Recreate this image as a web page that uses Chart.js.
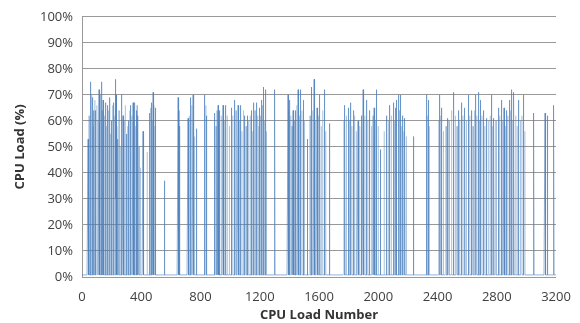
<!DOCTYPE html>
<html>
<head>
<meta charset="utf-8">
<script src="https://cdn.jsdelivr.net/npm/chart.js@4/dist/chart.umd.min.js"></script>
<style>
    html, body { margin: 0; padding: 0; background: #fff; }
    #wrap { width: 580px; height: 323px; }
</style>
</head>
<body>
<div id="wrap"><canvas id="cpuChart" width="580" height="323"></canvas></div>
<script>
// Number of load samples on the x axis
const sampleCount = 3200;
// Idle load between bursts (%)
const baseLoad = 0.8;

// Bursts: sample number and load (%)
const spikeIdx = [41, 57, 70, 81, 93, 115, 131, 142, 143, 144, 158, 171, 187, 199, 214, 228, 229, 230, 243, 266,
    277, 300, 315, 329, 345, 356, 367, 378, 412, 457, 469, 480, 498, 559, 649, 660, 716, 732, 750, 773,
    829, 840, 896, 919, 930, 952, 971, 1009, 1031, 1054, 1070, 1099, 1115, 1116, 1117, 1144, 1160, 1178, 1200, 1212,
    1223, 1224, 1225, 1239, 1302, 1391, 1403, 1425, 1443, 1459, 1477, 1493, 1520, 1550, 1567, 1587, 1606, 1635, 1673, 1775,
    1797, 1813, 1831, 1864, 1887, 1898, 1921, 1943, 1972, 1989, 2016, 2056, 2078, 2101, 2119, 2124, 2135, 2151, 2164, 2180,
    2236, 2326, 2337, 2416, 2428, 2466, 2506, 2540, 2563, 2585, 2607, 2630, 2659, 2675, 2691, 2709, 2732, 2765, 2781, 2810,
    2833, 2849, 2867, 2884, 2901, 2916, 2945, 2979, 3051, 3126, 3141, 3186];
const spikeVal = [53, 75, 69, 64, 64, 72, 75, 68, 20, 66, 67, 66, 69, 60, 67, 76, 30, 70, 53, 70,
    62, 55, 60, 66, 67, 67, 64, 62, 56, 63, 67, 71, 65, 37, 69, 58, 61, 69, 70, 57,
    70, 62, 63, 66, 64, 66, 66, 65, 68, 66, 66, 62, 62, 48, 60, 64, 67, 67, 65, 68,
    73, 32, 70, 72, 72, 70, 68, 64, 64, 72, 72, 68, 53, 73, 76, 65, 70, 72, 59, 66,
    65, 67, 64, 60, 62, 72, 68, 64, 65, 72, 49, 62, 66, 67, 65, 68, 70, 70, 62, 61,
    54, 70, 68, 70, 65, 61, 71, 64, 67, 65, 70, 64, 70, 71, 68, 64, 61, 70, 61, 65,
    68, 65, 64, 68, 72, 71, 68, 70, 63, 63, 62, 66];

// Fainter bursts in the busy stretches
const minorIdx = [48, 64, 76, 87, 100, 108, 122, 136, 150, 164, 178, 193, 206, 221, 236, 250, 258, 285, 292, 308,
    322, 337, 350, 362, 372, 385, 395, 440, 462, 474, 486, 492,
    655, 724, 741, 760, 836, 905, 912, 924, 940, 960, 980, 995, 1018, 1040, 1062, 1080, 1090, 1108,
    1125, 1136, 1152, 1168, 1186, 1193, 1205, 1218, 1232, 1245,
    1397, 1410, 1418, 1432, 1450, 1468, 1485, 1502, 1540, 1558, 1575, 1596, 1615, 1625, 1645,
    1768, 1785, 1805, 1822, 1840, 1852, 1875, 1910, 1930, 1955, 1965, 1980, 2000, 2040, 2068, 2088, 2110, 2143, 2158, 2172, 2190,
    2331, 2344, 2408, 2422, 2440, 2458, 2478, 2495, 2520, 2532, 2550, 2572, 2595, 2618, 2640, 2650, 2666, 2683, 2700, 2720,
    2745, 2756, 2772, 2795, 2820, 2840, 2858, 2875, 2893, 2908, 2928, 2938, 2960, 2970, 2990];
const minorVal = [62, 70, 58, 68, 66, 60, 70, 64, 62, 58, 64, 55, 66, 62, 58, 64, 50, 60, 66, 58,
    64, 62, 60, 58, 66, 50, 42, 48, 65, 60, 66, 58,
    64, 62, 66, 54, 66, 58, 64, 60, 62, 60, 62, 58, 62, 64, 60, 56, 64, 58,
    60, 62, 56, 64, 62, 58, 62, 66, 60, 56,
    64, 62, 58, 60, 66, 62, 64, 60, 62, 64, 60, 62, 58, 64, 56,
    60, 62, 60, 58, 62, 56, 58, 62, 60, 58, 62, 60, 58, 56, 60, 62, 60, 64, 58, 56, 54,
    62, 58, 60, 62, 56, 58, 60, 64, 62, 58, 60, 62, 60, 62, 58, 64, 62, 60, 62, 58,
    60, 62, 58, 60, 62, 60, 58, 62, 64, 60, 62, 58, 60, 62, 56];

// Axis ticks
const xTicks = [0, 400, 800, 1200, 1600, 2000, 2400, 2800, 3200];
const yTicks = [0, 10, 20, 30, 40, 50, 60, 70, 80, 90, 100];

// Build the series point by point
const loadPoints = [];
for (let i = 0; i <= sampleCount; i++) {
    loadPoints.push({ x: i, y: baseLoad });
}
minorIdx.forEach((idx, k) => { loadPoints[idx].y = minorVal[k]; });
spikeIdx.forEach((idx, k) => { loadPoints[idx].y = spikeVal[k]; });

// minor bursts are drawn paler, like the thin lines in the original
const minorSet = new Set(minorIdx);
const lineBlue = 'rgb(74,126,187)';
const paleBlue = 'rgba(74,126,187,0.45)';

const tickFont = { family: 'Open Sans', size: 13 };
const titleFont = { family: 'Open Sans', size: 13, weight: 'bold' };

new Chart(document.getElementById('cpuChart'), {
    type: 'line',
    data: {
        datasets: [{
            label: 'CPU Load',
            data: loadPoints,
            borderColor: lineBlue,
            borderWidth: 0.6,
            pointRadius: 0,
            tension: 0,
            fill: false,
            segment: {
                borderColor: ctx => (minorSet.has(ctx.p0DataIndex) || minorSet.has(ctx.p1DataIndex)) ? paleBlue : lineBlue
            }
        }]
    },
    options: {
        responsive: false,
        animation: false,
        events: [],
        layout: { padding: { top: 10, right: 24, left: 12, bottom: 0 } },
        plugins: {
            legend: { display: false },
            tooltip: { enabled: false }
        },
        scales: {
            x: {
                type: 'linear',
                min: xTicks[0],
                max: xTicks[xTicks.length - 1],
                ticks: { stepSize: xTicks[1] - xTicks[0], font: tickFont, color: '#404040', padding: 4, maxRotation: 0, callback: v => String(v) },
                grid: { display: false },
                border: { display: false },
                title: { display: true, text: 'CPU Load Number', font: titleFont, color: '#333', padding: { top: 0, bottom: 0 } },
                afterFit: axis => { axis.height = 46; }
            },
            y: {
                min: yTicks[0],
                max: yTicks[yTicks.length - 1],
                ticks: { stepSize: yTicks[1] - yTicks[0], font: tickFont, color: '#404040', padding: 9, callback: v => v + '%' },
                grid: { display: true, drawOnChartArea: true, color: '#999999', lineWidth: 1, drawTicks: false },
                border: { display: true, color: '#999999' },
                title: { display: true, text: 'CPU Load (%)', font: titleFont, color: '#333', padding: { top: 0, bottom: 4 } },
                afterFit: axis => { axis.width = 70; }
            }
        }
    }
});
</script>
</body>
</html>
